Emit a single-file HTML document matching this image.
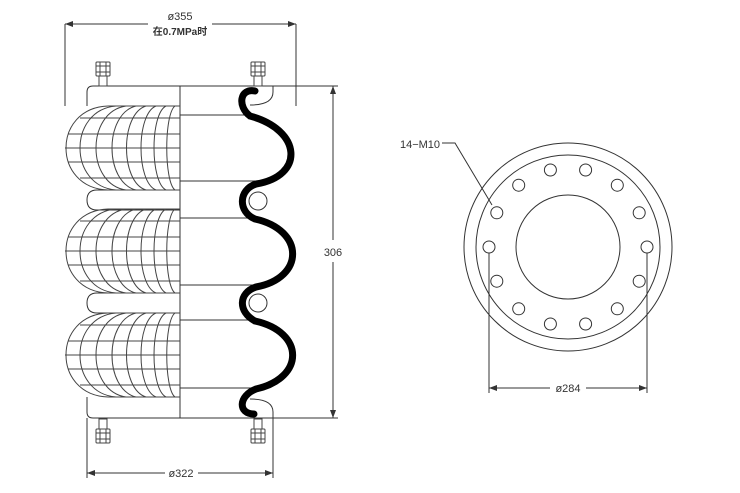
<!DOCTYPE html>
<html><head><meta charset="utf-8"><style>
html,body{margin:0;padding:0;background:#fff;}
svg{display:block;font-family:"Liberation Sans","Noto Sans CJK SC",sans-serif;}
</style></head><body>
<svg width="740" height="493" viewBox="0 0 740 493" xmlns="http://www.w3.org/2000/svg">
<defs>
<marker id="ar" markerWidth="8" markerHeight="6" refX="8" refY="3" orient="auto-start-reverse" markerUnits="userSpaceOnUse"><path d="M0,0 L8,3 L0,6 z" fill="#333"/></marker>
<g id="bulge" fill="none" stroke="#444" stroke-width="1">
<path d="M108,0 C52,2 52,82 108,84"/>
<path d="M116,0 C68,4 68,80 116,84"/>
<path d="M126,0 C86,6 86,78 126,84"/>
<path d="M136,0 C104,8 104,76 136,84"/>
<path d="M146,0 C120,8 120,76 146,84"/>
<path d="M156,0 C136,8 136,76 156,84"/>
<path d="M166,0 C150,8 150,76 166,84"/>
<path d="M175,0 C164,8 164,76 175,84"/>
<line x1="108" y1="0" x2="180" y2="0"/>
<line x1="108" y1="84" x2="180" y2="84"/>
<line x1="80" y1="12" x2="180" y2="12"/>
<line x1="68" y1="28" x2="180" y2="28"/>
<line x1="65" y1="42" x2="180" y2="42"/>
<line x1="68" y1="56" x2="180" y2="56"/>
<line x1="80" y1="72" x2="180" y2="72"/>
</g>
<g id="bolt" fill="#fff" stroke="#444" stroke-width="1">
<rect x="-7" y="0" width="14" height="14" rx="1"/>
<line x1="-7" y1="4" x2="7" y2="4"/><line x1="-7" y1="10" x2="7" y2="10"/>
<line x1="-3" y1="0" x2="-3" y2="14"/><line x1="3" y1="0" x2="3" y2="14"/>
<rect x="-4" y="14" width="8" height="10"/>
</g>
</defs>
<g stroke="#333" stroke-width="1" fill="none">
<line x1="65" y1="24" x2="65" y2="106"/>
<line x1="296" y1="24" x2="296" y2="106"/>
<line x1="65" y1="24" x2="148" y2="24" marker-start="url(#ar)"/>
<line x1="212" y1="24" x2="296" y2="24" marker-end="url(#ar)"/>
<line x1="87" y1="418" x2="87" y2="478"/>
<line x1="273" y1="418" x2="273" y2="478"/>
<line x1="87" y1="473" x2="165" y2="473" marker-start="url(#ar)"/>
<line x1="198" y1="473" x2="273" y2="473" marker-end="url(#ar)"/>
<line x1="180" y1="86" x2="338" y2="86"/>
<line x1="180" y1="418" x2="338" y2="418"/>
<line x1="333" y1="86" x2="333" y2="240" marker-start="url(#ar)"/>
<line x1="333" y1="262" x2="333" y2="418" marker-end="url(#ar)"/>
<path d="M87,106 L87,92 Q87,86 93,86 L180,86"/>
<path d="M87,397 L87,412 Q87,418 93,418 L180,418"/>
<path d="M250,105 Q273,105 273,92 L273,86"/>
<path d="M250,399 Q273,399 273,412 L273,418"/>
<line x1="180" y1="86" x2="180" y2="418"/>
<path d="M180,190 L97,190 Q87,190 87,200 Q87,210 97,210 L180,210"/>
<path d="M180,293 L97,293 Q87,293 87,303 Q87,313 97,313 L180,313"/>
<line x1="180" y1="115" x2="248" y2="115"/>
<line x1="180" y1="181" x2="255" y2="181"/>
<line x1="180" y1="218" x2="255" y2="218"/>
<line x1="180" y1="285" x2="255" y2="285"/>
<line x1="180" y1="320" x2="255" y2="320"/>
<line x1="180" y1="388" x2="255" y2="388"/>
<circle cx="258" cy="201" r="9"/>
<circle cx="258" cy="303" r="9"/>
</g>
<use href="#bulge" y="106"/>
<use href="#bulge" y="209"/>
<use href="#bulge" y="313"/>
<use href="#bolt" x="103" y="62"/>
<use href="#bolt" x="258" y="62"/>
<use href="#bolt" x="103" y="443" transform="translate(0,886) scale(1,-1)"/>
<use href="#bolt" x="258" y="443" transform="translate(0,886) scale(1,-1)"/>
<path d="M255,91 C240,88 237,106 250,116 C302,130 305,176 256,184 C238,190 238,212 255,219 C305,230 305,278 256,287 C238,293 238,312 255,321 C305,332 305,378 256,389 C238,396 238,414 254,414" fill="none" stroke="#000" stroke-width="7" stroke-linecap="round"/>
<g fill="#333" font-size="11" text-anchor="middle">
<text x="180" y="20">ø355</text>
<text x="180" y="35" font-weight="bold" font-size="10">在0.7MPa时</text>
<text x="181" y="477">ø322</text>
<text x="333" y="256">306</text>
<text x="568" y="392">ø284</text>
<text x="420" y="148">14−M10</text>
</g>
<g stroke="#333" stroke-width="1" fill="none">
<circle cx="568" cy="247" r="104"/>
<circle cx="568" cy="247" r="92"/>
<circle cx="568" cy="247" r="52"/>
<circle cx="647" cy="247" r="6"/><circle cx="639.2" cy="212.8" r="6"/><circle cx="617.3" cy="185.2" r="6"/><circle cx="585.6" cy="170" r="6"/><circle cx="550.4" cy="170" r="6"/><circle cx="518.7" cy="185.2" r="6"/><circle cx="496.8" cy="212.8" r="6"/><circle cx="489" cy="247" r="6"/><circle cx="496.8" cy="281.2" r="6"/><circle cx="518.7" cy="308.8" r="6"/><circle cx="550.4" cy="324" r="6"/><circle cx="585.6" cy="324" r="6"/><circle cx="617.3" cy="308.8" r="6"/><circle cx="639.2" cy="281.2" r="6"/>
<line x1="489" y1="253" x2="489" y2="393"/>
<line x1="647" y1="253" x2="647" y2="393"/>
<line x1="489" y1="388" x2="550" y2="388" marker-start="url(#ar)"/>
<line x1="586" y1="388" x2="647" y2="388" marker-end="url(#ar)"/>
<polyline points="442,143 455,143 492,205"/>
</g>
</svg>
</body></html>
